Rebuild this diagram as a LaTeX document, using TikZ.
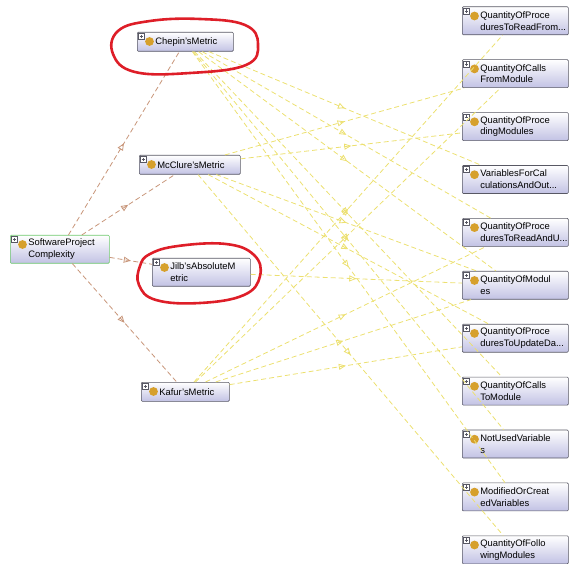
\documentclass[tikz,border=0pt]{standalone}
\usepackage{fontspec}
\setmainfont{Liberation Sans}
\usetikzlibrary{arrows.meta,decorations.markings}
\definecolor{lavande}{RGB}{194,194,228}
\definecolor{bordure}{RGB}{88,88,100}
\definecolor{vertclair}{RGB}{110,200,110}
\definecolor{pastille}{RGB}{214,160,44}
\definecolor{brun}{RGB}{200,150,122}
\definecolor{jaune}{RGB}{236,224,112}
\definecolor{rouge}{RGB}{222,30,40}
\tikzset{
  classe/.style={draw=bordure, line width=0.6pt, rounded corners=1pt, top color=white, bottom color=lavande,
    anchor=north west, inner xsep=2pt, inner ysep=1pt, align=left,
    font=\fontsize{9.4}{11.8}\selectfont, execute at begin node={\leftskip=16pt\relax}},
  boite/.style={draw=bordure, fill=white, line width=0.4pt},
  fleche/.style={postaction={decorate, decoration={markings,
    mark=at position .5 with {\arrow{Triangle[open,length=7pt,width=6pt]}}}}},
  lienbrun/.style={draw=brun, line width=0.8pt, dash pattern=on 5pt off 3pt, fleche},
  lienjaune/.style={draw=jaune, line width=0.8pt, dash pattern=on 5pt off 3pt, fleche},
  cercle/.style={draw=rouge, line width=2.6pt, line join=round}
}
\begin{document}
\begin{tikzpicture}[x=1pt, y=-1pt]
\useasboundingbox (0,0) rectangle (576,564);
% la classe racine, a gauche
\node[classe, draw=vertclair, minimum width=99, minimum height=28, text width=95] (spc) at (10,235) {SoftwareProject\\Complexity};

% les quatre metriques
\node[classe, minimum width=96, minimum height=19, text width=92] (chepin) at (137,32) {Chepin'sMetric};
\node[classe, minimum width=101, minimum height=19, text width=97] (mcclure) at (139,155) {McClure'sMetric};
\node[classe, minimum width=98, minimum height=28, text width=94] (jilb) at (152,258) {Jilb'sAbsoluteM\\etric};
\node[classe, minimum width=88, minimum height=19, text width=84] (kafur) at (141,382) {Kafur'sMetric};

% la colonne de droite (une case tous les 53 pixels)
\foreach \nom/\texte [count=\i from 0] in {
  readfrom/{QuantityOfProce\\duresToReadFrom...},
  callsfrom/{QuantityOfCalls\\FromModule},
  preceding/{QuantityOfProce\\dingModules},
  varcalc/{VariablesForCal\\culationsAndOut...},
  readupd/{QuantityOfProce\\duresToReadAndU...},
  modules/{QuantityOfModul\\es},
  update/{QuantityOfProce\\duresToUpdateDa...},
  callsto/{QuantityOfCalls\\ToModule},
  notused/{NotUsedVariable\\s},
  modified/{ModifiedOrCreat\\edVariables},
  following/{QuantityOfFollo\\wingModules}}
  \node[classe, minimum width=106, minimum height=28, text width=102] (\nom) at (462,{6.5+52.9*\i}) {\texte};

% le + et la pastille de chaque case
\foreach \n in {spc,chepin,mcclure,jilb,kafur,readfrom,callsfrom,preceding,varcalc,readupd,modules,update,callsto,notused,modified,following} {
  \draw[boite] ([shift={(1.5,1.5)}]\n.north west) rectangle +(6,6);
  \draw[bordure, line width=0.4pt] ([shift={(2.8,4.5)}]\n.north west) -- +(3.4,0) ([shift={(4.5,2.8)}]\n.north west) -- +(0,3.4);
  \fill[pastille] ([shift={(12.5,9.5)}]\n.north west) circle (4.4);
}

% les liens de sous-classe (brun)
\foreach \b in {chepin,mcclure,jilb,kafur}
  \draw[lienbrun] (spc) -- (\b);

% les liens vers les grandeurs mesurees (jaune)
\foreach \a/\b in {chepin/varcalc, chepin/readupd, chepin/modules, chepin/callsto, chepin/notused, chepin/modified,
  mcclure/callsfrom, mcclure/preceding, mcclure/modules, mcclure/update, mcclure/following,
  jilb/modules,
  kafur/readfrom, kafur/callsfrom, kafur/readupd, kafur/modules, kafur/update}
  \draw[lienjaune] (\a) -- (\b);

% les deux entourages a la main
\draw[cercle] plot[smooth cycle, tension=0.7] coordinates {(118,31) (150,21) (200,19) (245,25) (258,44) (246,65) (190,73) (135,72) (113,54)};
\draw[cercle] plot[smooth cycle, tension=0.7] coordinates {(150,254) (178,246) (226,244) (254,255) (260,276) (244,295) (200,303) (156,300) (139,285) (140,266)};
\end{tikzpicture}
\end{document}
